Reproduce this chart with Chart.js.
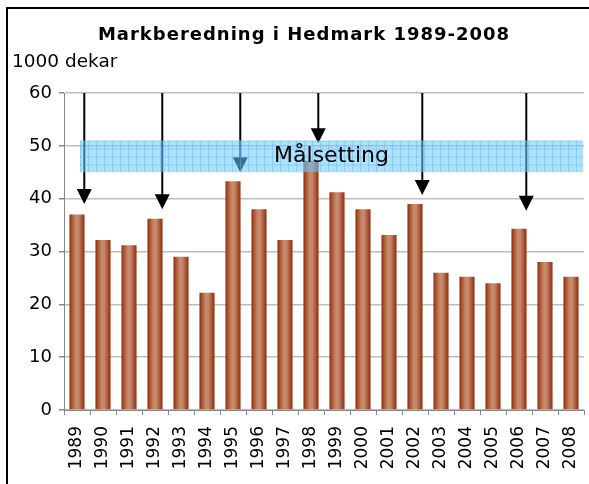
<!DOCTYPE html>
<html>
<head>
<meta charset="utf-8">
<script src="https://cdn.jsdelivr.net/npm/chart.js@4.4.1/dist/chart.umd.min.js"></script>
<style>
  html, body { margin: 0; padding: 0; background: #fff; overflow: hidden; }
  #wrap { position: relative; width: 589px; height: 484px; overflow: hidden; }
  #frame { position: absolute; left: 6px; top: 7px; width: 600px; height: 600px; border-left: 2px solid #000; border-top: 2px solid #000; box-sizing: border-box; pointer-events: none; }
  canvas { position: absolute; left: 0; top: 0; }
</style>
</head>
<body>
<div id="wrap">
  <canvas id="c" width="589" height="484"></canvas>
  <div id="frame"></div>
</div>
<script>
const chartTitle = 'Markberedning i Hedmark 1989-2008';
const unitLabel = '1000 dekar';
const targetLabel = 'Målsetting';
const years = ['1989','1990','1991','1992','1993','1994','1995','1996','1997','1998',
               '1999','2000','2001','2002','2003','2004','2005','2006','2007','2008'];
const values = [37, 32.2, 31.2, 36.2, 29, 22.2, 43.3, 38, 32.2, 47.2,
                41.2, 38, 33.1, 39, 26, 25.2, 24, 34.3, 28, 25.2];
const arrowYears = ['1989','1992','1995','1998','2002','2006'];
const arrowTips  = [39, 38, 45, 50.5, 40.7, 37.7];
const targetRange = [45, 51];
const yMin = 0, yMax = 60, yStep = 10;

const FONT = '"DejaVu Sans", Verdana, sans-serif';
const BAR_PCT = 0.58;

function barGradient(ctx) {
  const chart = ctx.chart;
  const xs = chart.scales && chart.scales.x;
  if (!xs || ctx.dataIndex === undefined) return '#b5653f';
  const cw = xs.width / years.length;
  const cx = xs.getPixelForValue(ctx.dataIndex);
  const half = cw * BAR_PCT / 2;
  if (!isFinite(cx) || !isFinite(half) || half <= 0) return '#b5653f';
  const g = chart.ctx.createLinearGradient(cx - half, 0, cx + half, 0);
  g.addColorStop(0, '#8e2c0c');
  g.addColorStop(0.22, '#b06240');
  g.addColorStop(0.45, '#c98e6f');
  g.addColorStop(0.6, '#c48465');
  g.addColorStop(1, '#8f2d0d');
  return g;
}

const overlay = {
  id: 'overlay',
  afterDatasetsDraw(chart) {
    const c = chart.ctx;
    const xs = chart.scales.x, ys = chart.scales.y;
    const area = chart.chartArea;
    const cw = xs.width / years.length;
    // arrows
    c.save();
    arrowYears.forEach((yr, k) => {
      const i = years.indexOf(yr);
      const x = xs.getPixelForValue(i) + cw * 0.28;
      const yTop = ys.getPixelForValue(yMax);
      const yTip = ys.getPixelForValue(arrowTips[k]);
      c.strokeStyle = '#000';
      c.lineWidth = 2;
      c.beginPath();
      c.moveTo(x, yTop);
      c.lineTo(x, yTip - 8);
      c.stroke();
      c.fillStyle = '#000';
      c.beginPath();
      c.moveTo(x - 7.5, yTip - 15);
      c.lineTo(x + 7.5, yTip - 15);
      c.lineTo(x, yTip);
      c.closePath();
      c.fill();
    });
    c.restore();
    // target band
    const bx0 = xs.getPixelForValue(0) + 3;
    const bx1 = area.right - 1;
    const by0 = ys.getPixelForValue(targetRange[1]);
    const by1 = ys.getPixelForValue(targetRange[0]);
    c.save();
    c.fillStyle = 'rgba(110,200,250,0.55)';
    c.fillRect(bx0, by0, bx1 - bx0, by1 - by0);
    c.beginPath();
    c.rect(bx0, by0, bx1 - bx0, by1 - by0);
    c.clip();
    c.strokeStyle = 'rgba(90,185,245,0.45)';
    c.lineWidth = 1;
    c.beginPath();
    for (let x = bx0 + 0.5; x < bx1; x += 8) { c.moveTo(x, by0); c.lineTo(x, by1); }
    for (let y = by0 + 0.5; y < by1; y += 8) { c.moveTo(bx0, y); c.lineTo(bx1, y); }
    c.stroke();
    c.restore();
    // target label
    c.save();
    c.fillStyle = '#000';
    c.font = '22px ' + FONT;
    c.textAlign = 'center';
    c.textBaseline = 'middle';
    c.fillText(targetLabel, (bx0 + bx1) / 2, ys.getPixelForValue((targetRange[0] + targetRange[1]) / 2));
    c.restore();
  },
  afterDraw(chart) {
    const c = chart.ctx;
    c.save();
    c.fillStyle = '#000';
    c.font = 'bold 18px ' + FONT;
    try { c.letterSpacing = '1px'; } catch (e) {}
    c.textAlign = 'center';
    c.textBaseline = 'middle';
    c.fillText(chartTitle, 304, 35);
    try { c.letterSpacing = '0px'; } catch (e) {}
    c.font = '18.5px ' + FONT;
    c.textAlign = 'left';
    c.fillText(unitLabel, 12, 62);
    c.restore();
  }
};

new Chart(document.getElementById('c'), {
  type: 'bar',
  data: {
    labels: years,
    datasets: [{
      data: values,
      backgroundColor: barGradient,
      borderWidth: 0,
      barPercentage: BAR_PCT,
      categoryPercentage: 1
    }]
  },
  options: {
    responsive: false,
    animation: false,
    events: [],
    layout: { padding: { top: 93, right: 5, left: 0, bottom: 0 } },
    plugins: { legend: { display: false }, title: { display: false }, tooltip: { enabled: false } },
    scales: {
      x: {
        offset: true,
        grid: { display: true, drawOnChartArea: false, offset: true, tickLength: 5, tickColor: '#888', color: '#888' },
        border: { color: '#888', width: 1 },
        ticks: { color: '#000', font: { family: FONT, size: 17 }, maxRotation: 90, minRotation: 90, padding: 11 },
        afterFit(s) { s.height = 74; s.paddingLeft = 0; s.paddingRight = 0; }
      },
      y: {
        min: yMin, max: yMax,
        grid: { color: '#bdbdbd', lineWidth: 1.5, tickLength: 5, tickColor: '#888' },
        border: { color: '#888', width: 1 },
        ticks: { stepSize: yStep, color: '#000', font: { family: FONT, size: 18 }, padding: 7 },
        afterFit(s) { s.width = 64; s.paddingTop = 0; s.paddingBottom = 0; }
      }
    }
  },
  plugins: [overlay]
});
</script>
</body>
</html>
